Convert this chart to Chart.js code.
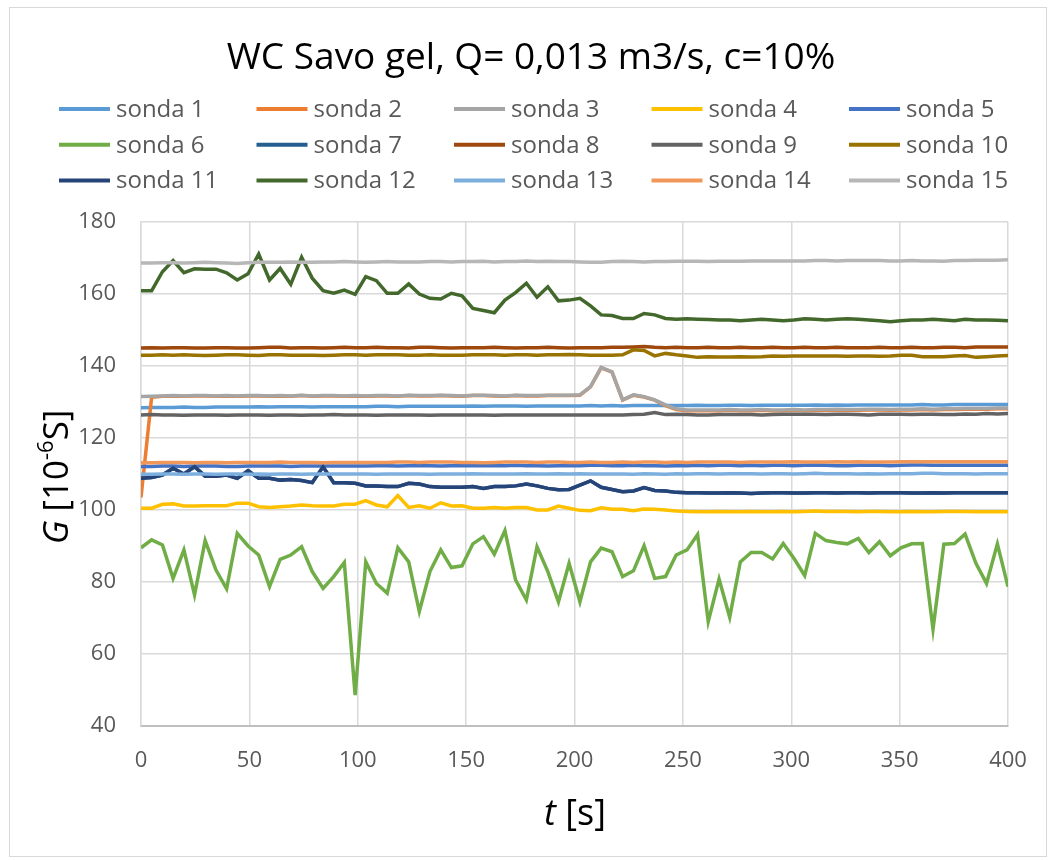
<!DOCTYPE html>
<html>
<head>
<meta charset="utf-8">
<script src="https://cdn.jsdelivr.net/npm/chart.js@4.4.1/dist/chart.umd.min.js"></script>
<style>
  html, body { margin: 0; padding: 0; background: #fff; }
  canvas { display: block; }
</style>
</head>
<body>
<canvas id="chart1" width="1051" height="861"></canvas>
<script>
// time in seconds
const times = [
  0, 4.9, 9.9, 14.8, 19.8, 24.7, 29.6, 34.6, 39.5, 44.4,
  49.4, 54.3, 59.3, 64.2, 69.1, 74.1, 79.0, 84.0, 88.9, 93.8,
  98.8, 103.7, 108.6, 113.6, 118.5, 123.5, 128.4, 133.3, 138.3, 143.2,
  148.1, 153.1, 158.0, 163.0, 167.9, 172.8, 177.8, 182.7, 187.7, 192.6,
  197.5, 202.5, 207.4, 212.3, 217.3, 222.2, 227.2, 232.1, 237.0, 242.0,
  246.9, 251.9, 256.8, 261.7, 266.7, 271.6, 276.5, 281.5, 286.4, 291.4,
  296.3, 301.2, 306.2, 311.1, 316.0, 321.0, 325.9, 330.9, 335.8, 340.7,
  345.7, 350.6, 355.6, 360.5, 365.4, 370.4, 375.3, 380.2, 385.2, 390.1,
  395.1, 400.0
];

const sonda1 = [
  128.4,128.5,128.5,128.5,128.6,128.5,128.5,128.6,128.6,128.6,
  128.6,128.7,128.6,128.7,128.7,128.7,128.6,128.7,128.7,128.7,
  128.7,128.7,128.8,128.8,128.7,128.8,128.8,128.8,128.8,128.8,
  128.8,128.9,128.8,128.9,128.9,128.9,128.8,128.9,128.9,128.9,
  128.9,128.9,129.0,128.9,129.0,128.9,129.0,129.0,129.0,129.0,
  129.0,129.0,129.1,129.0,129.0,129.1,129.1,129.0,129.1,129.1,
  129.1,129.1,129.1,129.2,129.1,129.2,129.1,129.2,129.2,129.2,
  129.2,129.2,129.2,129.3,129.2,129.2,129.3,129.3,129.3,129.3,
  129.3,129.3
];
const sonda2 = [
  103.5,131.3,131.6,131.7,131.6,131.7,131.7,131.6,131.7,131.6,
  131.7,131.7,131.6,131.7,131.6,131.8,131.6,131.7,131.7,131.6,
  131.7,131.6,131.7,131.7,131.6,131.8,131.7,131.7,131.8,131.7,
  131.6,131.8,131.8,131.7,131.6,131.8,131.7,131.7,131.8,131.8,
  131.8,131.9,134.2,139.5,138.3,130.5,131.9,131.4,130.5,129.0,
  127.9,127.6,127.6,127.6,127.6,127.7,127.6,127.6,127.7,127.6,
  127.6,127.7,127.6,127.7,127.7,127.8,127.7,127.7,127.8,127.8,
  127.7,127.8,127.8,127.9,127.8,127.9,127.9,128.0,128.0,128.0,
  128.1,128.1
];
const sonda3 = [
  131.5,131.6,131.7,131.8,131.7,131.8,131.8,131.7,131.8,131.7,
  131.8,131.8,131.7,131.8,131.7,131.9,131.7,131.8,131.8,131.7,
  131.8,131.7,131.8,131.8,131.7,131.9,131.8,131.8,131.9,131.8,
  131.7,131.9,131.9,131.8,131.7,131.9,131.8,131.8,131.9,131.9,
  131.9,132.0,134.3,139.6,138.4,130.6,132.0,131.5,130.6,129.2,
  128.1,127.8,127.8,127.8,127.8,127.9,127.8,127.8,127.9,127.8,
  127.8,127.9,127.8,127.9,127.9,128.0,127.9,127.9,128.0,128.0,
  127.9,128.0,128.0,128.1,128.0,128.1,128.1,128.2,128.2,128.2,
  128.3,128.3
];
const sonda4 = [
  100.5,100.5,101.6,101.7,101.1,101.1,101.2,101.2,101.2,101.9,
  101.9,100.9,100.7,100.9,101.1,101.4,101.2,101.1,101.1,101.6,
  101.6,102.6,101.4,100.9,104.0,100.7,101.2,100.5,102.0,101.1,
  101.2,100.5,100.5,100.7,100.5,100.7,100.7,100.0,100.0,101.1,
  100.5,99.9,99.8,100.6,100.2,100.2,99.8,100.3,100.2,100.0,
  99.7,99.6,99.5,99.5,99.6,99.5,99.5,99.6,99.5,99.5,
  99.6,99.5,99.6,99.7,99.6,99.6,99.6,99.5,99.6,99.6,
  99.5,99.5,99.6,99.5,99.5,99.6,99.6,99.6,99.5,99.5,
  99.5,99.5
];
const sonda5 = [
  112.1,112.1,112.2,112.2,112.1,112.2,112.2,112.2,112.1,112.1,
  112.2,112.2,112.2,112.2,112.1,112.2,112.2,112.2,112.2,112.2,
  112.2,112.2,112.3,112.3,112.2,112.3,112.3,112.3,112.2,112.3,
  112.3,112.3,112.3,112.3,112.3,112.4,112.3,112.3,112.2,112.3,
  112.3,112.3,112.4,112.4,112.3,112.3,112.4,112.3,112.3,112.2,
  112.3,112.3,112.4,112.3,112.4,112.4,112.3,112.4,112.3,112.4,
  112.4,112.3,112.4,112.5,112.4,112.3,112.3,112.4,112.4,112.4,
  112.3,112.4,112.5,112.5,112.4,112.4,112.4,112.4,112.4,112.4,
  112.4,112.4
];
const sonda6 = [
  89.5,91.7,90.3,81.0,88.9,76.4,91.5,83.3,78.1,93.5,
  90.0,87.5,78.7,86.3,87.5,89.8,82.9,78.2,81.5,85.4,
  48.6,85.6,79.6,76.9,89.5,85.6,71.8,82.9,88.9,84.0,
  84.5,90.6,92.6,87.7,94.3,80.6,75.0,89.8,82.9,74.5,
  85.2,74.5,85.6,89.4,88.4,81.5,83.1,90.1,81.0,81.5,
  87.5,88.9,93.2,69.0,80.8,70.2,85.6,88.2,88.2,86.4,
  90.7,86.6,81.8,93.5,91.5,91.0,90.6,92.1,88.2,91.2,
  87.3,89.5,90.6,90.7,66.9,90.5,90.7,93.3,85.2,79.6,
  90.6,78.7
];
const sonda7 = [
  108.8,109.0,109.7,111.6,110.0,112.0,109.4,109.4,109.7,108.8,
  110.9,108.8,108.8,108.3,108.5,108.2,107.6,112.0,107.6,107.6,
  107.4,106.7,106.7,106.5,106.5,107.4,107.2,106.5,106.3,106.3,
  106.3,106.5,106.0,106.5,106.5,106.7,107.2,106.7,106.0,105.6,
  105.7,106.9,108.1,106.3,105.7,105.1,105.3,106.2,105.4,105.3,
  104.9,104.8,104.8,104.7,104.7,104.8,104.7,104.6,104.7,104.8,
  104.8,104.7,104.7,104.8,104.8,104.7,104.8,104.8,104.7,104.8,
  104.8,104.8,104.7,104.7,104.8,104.7,104.8,104.8,104.8,104.8,
  104.8,104.8
];
const sonda8 = [
  145.0,145.1,145.0,145.1,145.1,145.0,145.0,145.1,145.1,145.0,
  145.0,145.1,145.2,145.2,145.0,145.1,145.1,145.0,145.1,145.2,
  145.1,145.1,145.2,145.1,145.1,145.0,145.2,145.2,145.1,145.0,
  145.1,145.1,145.1,145.2,145.1,145.0,145.1,145.1,145.2,145.1,
  145.0,145.1,145.1,145.1,145.2,145.2,145.3,145.4,145.2,145.1,
  145.2,145.1,145.1,145.2,145.1,145.1,145.2,145.1,145.1,145.2,
  145.1,145.1,145.2,145.1,145.1,145.2,145.1,145.1,145.1,145.2,
  145.1,145.1,145.2,145.1,145.1,145.2,145.2,145.1,145.3,145.3,
  145.3,145.3
];
const sonda9 = [
  126.4,126.5,126.4,126.4,126.3,126.4,126.4,126.4,126.3,126.4,
  126.4,126.4,126.3,126.4,126.4,126.3,126.4,126.4,126.5,126.4,
  126.4,126.4,126.3,126.4,126.4,126.4,126.4,126.3,126.4,126.4,
  126.4,126.4,126.4,126.3,126.4,126.4,126.4,126.4,126.4,126.4,
  126.4,126.4,126.4,126.4,126.4,126.4,126.5,126.6,127.1,126.5,
  126.6,126.5,126.4,126.4,126.5,126.5,126.5,126.5,126.4,126.5,
  126.6,126.6,126.6,126.6,126.5,126.6,126.6,126.5,126.4,126.6,
  126.6,126.6,126.5,126.6,126.6,126.5,126.5,126.7,126.6,126.8,
  126.7,126.8
];
const sonda10 = [
  143.0,143.0,143.1,143.0,143.1,143.0,142.9,143.0,143.1,143.1,
  143.0,142.9,143.1,143.1,143.0,143.0,143.0,142.9,143.0,143.1,
  143.1,143.0,143.1,143.1,143.1,143.0,143.0,143.1,143.0,143.0,
  143.0,143.1,143.1,143.1,143.0,143.1,143.1,143.0,143.1,143.1,
  143.2,143.1,143.0,143.0,143.0,143.1,144.5,144.3,142.8,143.5,
  143.1,142.8,142.4,142.6,142.5,142.5,142.6,142.5,142.6,142.8,
  142.7,142.8,142.8,142.8,142.8,142.8,142.7,142.8,142.8,142.7,
  142.8,143.0,143.0,142.6,142.6,142.6,142.8,142.9,142.4,142.6,
  142.8,142.9
];
const sonda11 = [
  108.8,109.0,109.7,111.6,110.0,112.0,109.4,109.4,109.7,108.8,
  110.9,108.8,108.8,108.3,108.5,108.2,107.6,112.0,107.6,107.6,
  107.4,106.7,106.7,106.5,106.5,107.4,107.2,106.5,106.3,106.3,
  106.3,106.5,106.0,106.5,106.5,106.7,107.2,106.7,106.0,105.6,
  105.7,106.9,108.1,106.3,105.7,105.1,105.3,106.2,105.4,105.3,
  104.9,104.8,104.8,104.7,104.7,104.8,104.7,104.6,104.7,104.8,
  104.8,104.7,104.7,104.8,104.8,104.7,104.8,104.8,104.7,104.8,
  104.8,104.8,104.7,104.7,104.8,104.7,104.8,104.8,104.8,104.8,
  104.8,104.8
];
const sonda12 = [
  160.9,160.9,166.2,169.3,165.9,167.0,166.9,166.9,165.9,163.9,
  165.6,171.1,163.9,167.1,162.7,170.2,164.4,160.9,160.2,161.1,
  159.9,164.8,163.7,160.2,160.2,162.8,160.0,158.8,158.6,160.2,
  159.5,156.0,155.4,154.8,158.3,160.4,163.0,159.1,162.0,158.1,
  158.3,158.8,156.7,154.2,154.0,153.2,153.2,154.6,154.2,153.2,
  153.0,153.1,153.0,152.9,152.8,152.8,152.6,152.8,153.0,152.8,
  152.6,152.8,153.1,153.0,152.8,153.0,153.1,153.0,152.8,152.6,
  152.3,152.6,152.8,152.8,153.0,152.8,152.6,153.0,152.8,152.8,
  152.7,152.6
];
const sonda13 = [
  109.9,109.9,110.0,110.0,109.9,110.0,110.0,109.9,110.0,110.0,
  109.9,110.0,109.9,110.0,110.0,109.9,110.0,110.0,110.0,110.0,
  110.0,110.0,109.9,110.0,110.0,110.0,110.0,109.9,110.0,110.0,
  110.0,110.1,110.0,110.0,110.0,110.0,110.1,110.0,110.0,110.1,
  110.0,110.1,110.0,110.0,110.0,110.0,109.9,110.1,110.0,109.9,
  110.1,110.0,110.1,110.1,110.0,110.1,110.1,110.1,110.0,110.1,
  110.1,110.0,110.1,110.2,110.1,110.1,110.1,110.0,110.1,110.0,
  110.1,110.1,110.1,110.2,110.2,110.1,110.1,110.1,110.0,110.1,
  110.1,110.1
];
const sonda14 = [
  113.1,113.1,113.2,113.2,113.2,113.1,113.2,113.2,113.1,113.2,
  113.2,113.2,113.2,113.3,113.2,113.2,113.2,113.1,113.2,113.2,
  113.2,113.2,113.2,113.2,113.3,113.3,113.2,113.3,113.3,113.3,
  113.2,113.2,113.1,113.2,113.3,113.3,113.3,113.2,113.3,113.3,
  113.2,113.2,113.3,113.2,113.2,113.3,113.2,113.3,113.3,113.2,
  113.3,113.2,113.3,113.3,113.3,113.3,113.2,113.3,113.3,113.3,
  113.3,113.4,113.3,113.3,113.3,113.4,113.3,113.4,113.3,113.3,
  113.3,113.4,113.4,113.4,113.4,113.4,113.4,113.4,113.4,113.4,
  113.4,113.4
];
const sonda15 = [
  168.6,168.6,168.7,168.7,168.6,168.7,168.8,168.7,168.6,168.5,
  168.7,168.8,168.8,168.8,168.9,168.8,168.8,168.9,168.9,169.0,
  168.9,168.8,168.9,169.0,168.9,168.9,168.9,169.0,169.0,168.9,
  169.0,169.0,169.1,168.9,169.0,169.0,169.2,169.0,169.1,169.0,
  169.0,168.9,168.8,168.8,169.0,169.1,169.0,168.9,169.0,169.0,
  169.1,169.1,169.1,169.0,169.1,169.1,169.1,169.2,169.2,169.2,
  169.2,169.2,169.2,169.3,169.3,169.2,169.3,169.3,169.3,169.3,
  169.2,169.2,169.3,169.2,169.2,169.1,169.3,169.3,169.4,169.4,
  169.4,169.5
];

const seriesNames = ['sonda 1','sonda 2','sonda 3','sonda 4','sonda 5','sonda 6','sonda 7','sonda 8',
                     'sonda 9','sonda 10','sonda 11','sonda 12','sonda 13','sonda 14','sonda 15'];
const seriesValues = [sonda1, sonda2, sonda3, sonda4, sonda5, sonda6, sonda7, sonda8,
                      sonda9, sonda10, sonda11, sonda12, sonda13, sonda14, sonda15];
const xTicks = [0, 50, 100, 150, 200, 250, 300, 350, 400];
const yTicks = [40, 60, 80, 100, 120, 140, 160, 180];

const colors = ['#5B9BD5','#ED7D31','#A5A5A5','#FFC000','#4472C4','#70AD47','#255E91','#9E480E',
                '#636363','#997300','#264478','#43682B','#7CAFDD','#F1975A','#B7B7B7'];

const FONT = '"Open Sans", "DejaVu Sans", sans-serif';

// excel-like legend: 5 columns x 3 rows
const gridLegend = {
  id: 'gridLegend',
  afterDraw(chart) {
    const ctx = chart.ctx;
    ctx.save();
    chart.data.datasets.forEach((ds, i) => {
      const col = i % 5, row = Math.floor(i / 5);
      const x = 59 + col * 197.5, y = 109 + row * 35.7;
      ctx.strokeStyle = ds.borderColor;
      ctx.lineWidth = 4;
      ctx.beginPath();
      ctx.moveTo(x, y);
      ctx.lineTo(x + 51, y);
      ctx.stroke();
      ctx.fillStyle = '#595959';
      ctx.font = '24px ' + FONT;
      ctx.textBaseline = 'middle';
      ctx.textAlign = 'left';
      ctx.fillText(ds.label, x + 57, y + 1);
    });
    ctx.restore();
  }
};

// axis titles with italic symbols and superscript, plus the outer frame
const axisTitles = {
  id: 'axisTitles',
  beforeDraw(chart) {
    const ctx = chart.ctx;
    ctx.save();
    ctx.fillStyle = '#fff';
    ctx.fillRect(0, 0, chart.width, chart.height);
    ctx.strokeStyle = '#D9D9D9';
    ctx.lineWidth = 1;
    ctx.strokeRect(9.5, 7.5, 1037, 849);
    ctx.restore();
  },
  afterDraw(chart) {
    const ctx = chart.ctx;
    ctx.save();
    ctx.fillStyle = '#000';
    ctx.textBaseline = 'middle';
    ctx.textAlign = 'left';
    // x title
    const it = 'italic 36px ' + FONT, rg = '36px ' + FONT;
    ctx.font = it; const w1 = ctx.measureText('t').width;
    ctx.font = rg; const w2 = ctx.measureText(' [s]').width;
    let x = 575 - (w1 + w2) / 2;
    ctx.font = it; ctx.fillText('t', x, 815);
    ctx.font = rg; ctx.fillText(' [s]', x + w1, 815);
    // y title
    ctx.translate(58, 477);
    ctx.rotate(-Math.PI / 2);
    const ity = 'italic 35px ' + FONT, rgy = '35px ' + FONT, sup = '22px ' + FONT;
    ctx.font = ity; const a = ctx.measureText('G').width;
    ctx.font = rgy; const b = ctx.measureText(' [10').width;
    ctx.font = sup; const c = ctx.measureText('-6').width;
    ctx.font = rgy; const d = ctx.measureText('S]').width;
    x = -(a + b + c + d) / 2;
    ctx.font = ity; ctx.fillText('G', x, 0); x += a;
    ctx.font = rgy; ctx.fillText(' [10', x, 0); x += b;
    ctx.font = sup; ctx.fillText('-6', x, -11); x += c;
    ctx.font = rgy; ctx.fillText('S]', x, 0);
    ctx.restore();
  }
};

function drawChart() {
  const ctx = document.getElementById('chart1').getContext('2d');
  new Chart(ctx, {
    type: 'line',
    data: {
      datasets: seriesNames.map((name, i) => ({
        label: name,
        data: seriesValues[i].map((v, k) => ({ x: times[k], y: v })),
        borderColor: colors[i],
        backgroundColor: colors[i],
        borderWidth: 3.5,
        pointRadius: 0,
        tension: 0,
        fill: false,
        order: seriesNames.length - i
      }))
    },
    options: {
      responsive: false,
      animation: false,
      devicePixelRatio: 1,
      layout: { padding: { left: 54, right: 43, top: 0, bottom: 0 } },
      plugins: {
        legend: { display: false },
        tooltip: { enabled: false },
        title: {
          display: true,
          text: 'WC Savo gel, Q= 0,013 m3/s, c=10%',
          color: '#000',
          font: { family: FONT, size: 37, weight: 'normal', lineHeight: 1.2 },
          padding: { top: 36, bottom: 141.6 }
        }
      },
      scales: {
        x: {
          type: 'linear',
          min: 0, max: 400,
          afterBuildTicks: (s) => { s.ticks = xTicks.map(v => ({ value: v })); },
          afterFit: (s) => { s.height = 135; },
          grid: { color: '#D9D9D9', lineWidth: 1.5, drawTicks: false },
          border: { color: '#BFBFBF', width: 2 },
          ticks: { color: '#595959', font: { family: FONT, size: 22 }, padding: 22, maxRotation: 0 }
        },
        y: {
          min: 40, max: 180,
          afterBuildTicks: (s) => { s.ticks = yTicks.map(v => ({ value: v })); },
          afterFit: (s) => { s.width = 87; },
          grid: { color: '#D9D9D9', lineWidth: 1.5, drawTicks: false },
          border: { color: '#D9D9D9', width: 1.5 },
          ticks: { color: '#595959', font: { family: FONT, size: 22 }, padding: 25 }
        }
      }
    },
    plugins: [axisTitles, gridLegend]
  });
}

Promise.all([
  document.fonts.load('22px "Open Sans"'),
  document.fonts.load('italic 36px "Open Sans"')
]).catch(() => {}).then(drawChart);
</script>
</body>
</html>
